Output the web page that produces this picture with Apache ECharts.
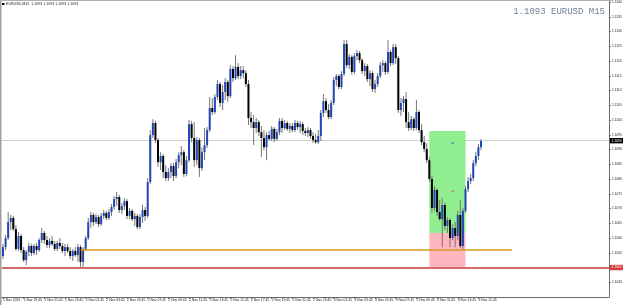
<!DOCTYPE html>
<html><head><meta charset="utf-8">
<script src="https://cdn.jsdelivr.net/npm/echarts@6/dist/echarts.min.js"></script>
<style>html,body{margin:0;padding:0;background:#fff}#c{width:625px;height:305px}</style>
</head><body><div id="c"></div>
<script>
const symbolName = 'EURUSD';
const timeframe = 'M15';
const startTime = '2016-11-01 17:45';
const slotCount = 235;
const tickLabels = ['1 Nov 2016','1 Nov 19:45','1 Nov 21:45','1 Nov 23:45','2 Nov 01:45','2 Nov 03:45','2 Nov 05:45','2 Nov 07:45','2 Nov 09:45','2 Nov 11:45','2 Nov 13:45','2 Nov 15:45','2 Nov 17:45','2 Nov 19:45','2 Nov 21:45','2 Nov 23:45','3 Nov 01:45','3 Nov 03:45','3 Nov 05:45','3 Nov 07:45','3 Nov 09:45','3 Nov 11:45','3 Nov 13:45','3 Nov 15:45'];
const opens = [
1.10539,1.10569,1.10600,1.10654,1.10668,1.10630,1.10563,1.10607,1.10559,1.10525,
1.10553,1.10573,1.10549,1.10573,1.10559,1.10593,1.10617,1.10593,1.10576,1.10590,
1.10580,1.10563,1.10583,1.10573,1.10556,1.10569,1.10556,1.10539,1.10556,1.10542,
1.10569,1.10519,1.10563,1.10600,1.10654,1.10678,1.10654,1.10671,1.10647,1.10675,
1.10685,1.10668,1.10688,1.10705,1.10732,1.10739,1.10695,1.10708,1.10725,1.10675,
1.10692,1.10664,1.10675,1.10637,1.10671,1.10695,1.10675,1.10790,1.10949,1.10990,
1.10932,1.10857,1.10878,1.10824,1.10803,1.10824,1.10844,1.10810,1.10857,1.10881,
1.10891,1.10817,1.10864,1.10986,1.10939,1.10864,1.10932,1.10837,1.10891,1.10915,
1.10966,1.11041,1.11027,1.11078,1.11122,1.11058,1.11095,1.11129,1.11081,1.11173,
1.11142,1.11180,1.11149,1.11169,1.11159,1.11122,1.11007,1.10993,1.10973,1.10993,
1.10959,1.10939,1.10908,1.10949,1.10936,1.10970,1.10936,1.10959,1.10997,1.10973,
1.10990,1.10970,1.10980,1.10966,1.10990,1.10976,1.10986,1.10963,1.10956,1.10966,
1.10946,1.10932,1.10925,1.10946,1.11024,1.11064,1.11034,1.11010,1.11058,1.11136,
1.11149,1.11112,1.11156,1.11258,1.11186,1.11214,1.11163,1.11217,1.11227,1.11203,
1.11166,1.11183,1.11139,1.11159,1.11105,1.11122,1.11149,1.11186,1.11193,1.11163,
1.11231,1.11193,1.11247,1.11210,1.11034,1.11058,1.11071,1.10993,1.10973,1.11003,
1.10973,1.11027,1.10966,1.10925,1.10902,1.10864,1.10800,1.10702,1.10763,1.10688,
1.10664,1.10712,1.10641,1.10661,1.10600,1.10634,1.10607,1.10678,1.10573,1.10692,
1.10766,1.10793,1.10803,1.10854,1.10878,1.10908];
const closes = [
1.10569,1.10600,1.10654,1.10668,1.10630,1.10563,1.10607,1.10559,1.10525,1.10553,
1.10573,1.10549,1.10573,1.10559,1.10593,1.10617,1.10593,1.10576,1.10590,1.10580,
1.10563,1.10583,1.10573,1.10556,1.10569,1.10556,1.10539,1.10556,1.10542,1.10569,
1.10519,1.10563,1.10600,1.10654,1.10678,1.10654,1.10671,1.10647,1.10675,1.10685,
1.10668,1.10688,1.10705,1.10732,1.10739,1.10695,1.10708,1.10725,1.10675,1.10692,
1.10664,1.10675,1.10637,1.10671,1.10695,1.10675,1.10790,1.10949,1.10990,1.10932,
1.10857,1.10878,1.10824,1.10803,1.10824,1.10844,1.10810,1.10857,1.10881,1.10891,
1.10817,1.10864,1.10986,1.10939,1.10864,1.10932,1.10837,1.10891,1.10915,1.10966,
1.11041,1.11027,1.11078,1.11122,1.11058,1.11095,1.11129,1.11081,1.11173,1.11142,
1.11180,1.11149,1.11169,1.11159,1.11122,1.11007,1.10993,1.10973,1.10993,1.10959,
1.10939,1.10908,1.10949,1.10936,1.10970,1.10936,1.10959,1.10997,1.10973,1.10990,
1.10970,1.10980,1.10966,1.10990,1.10976,1.10986,1.10963,1.10956,1.10966,1.10946,
1.10932,1.10925,1.10946,1.11024,1.11064,1.11034,1.11010,1.11058,1.11136,1.11149,
1.11112,1.11156,1.11258,1.11186,1.11214,1.11163,1.11217,1.11227,1.11203,1.11166,
1.11183,1.11139,1.11159,1.11105,1.11122,1.11149,1.11186,1.11193,1.11163,1.11231,
1.11193,1.11247,1.11210,1.11034,1.11058,1.11071,1.10993,1.10973,1.11003,1.10973,
1.11027,1.10966,1.10925,1.10902,1.10864,1.10800,1.10702,1.10763,1.10688,1.10664,
1.10712,1.10641,1.10661,1.10600,1.10634,1.10607,1.10678,1.10573,1.10692,1.10766,
1.10793,1.10803,1.10854,1.10878,1.10908,1.10929];
const highs = [
1.10580,1.10610,1.10688,1.10678,1.10675,1.10644,1.10620,1.10614,1.10569,1.10559,
1.10583,1.10580,1.10580,1.10583,1.10600,1.10634,1.10624,1.10607,1.10600,1.10607,
1.10590,1.10590,1.10600,1.10583,1.10580,1.10580,1.10569,1.10563,1.10569,1.10580,
1.10576,1.10569,1.10607,1.10668,1.10688,1.10685,1.10681,1.10678,1.10685,1.10695,
1.10692,1.10698,1.10715,1.10742,1.10756,1.10746,1.10719,1.10736,1.10732,1.10702,
1.10698,1.10685,1.10681,1.10681,1.10712,1.10705,1.10803,1.10966,1.11003,1.10997,
1.10939,1.10891,1.10885,1.10847,1.10837,1.10854,1.10854,1.10868,1.10891,1.10912,
1.10898,1.10878,1.11000,1.10997,1.10993,1.10942,1.10939,1.10908,1.10973,1.10976,
1.11078,1.11075,1.11088,1.11136,1.11129,1.11119,1.11142,1.11136,1.11186,1.11183,
1.11220,1.11193,1.11183,1.11183,1.11169,1.11136,1.11027,1.11017,1.11007,1.11000,
1.10980,1.10966,1.10959,1.10963,1.10980,1.10976,1.10970,1.11007,1.11007,1.11000,
1.10997,1.10990,1.10990,1.11000,1.10997,1.10997,1.10993,1.10973,1.10976,1.10973,
1.10959,1.10953,1.10966,1.11034,1.11088,1.11075,1.11054,1.11068,1.11146,1.11156,
1.11156,1.11166,1.11271,1.11271,1.11224,1.11220,1.11227,1.11237,1.11234,1.11210,
1.11193,1.11190,1.11169,1.11166,1.11136,1.11159,1.11197,1.11203,1.11200,1.11271,
1.11237,1.11258,1.11258,1.11217,1.11075,1.11081,1.11095,1.11027,1.11014,1.11010,
1.11068,1.11034,1.10986,1.10946,1.10922,1.10875,1.10810,1.10776,1.10769,1.10729,
1.10736,1.10719,1.10671,1.10668,1.10647,1.10654,1.10692,1.10729,1.10702,1.10776,
1.10807,1.10817,1.10864,1.10891,1.10919,1.10936];
const lows = [
1.10529,1.10559,1.10593,1.10627,1.10624,1.10556,1.10556,1.10549,1.10519,1.10508,
1.10539,1.10539,1.10542,1.10542,1.10553,1.10583,1.10580,1.10566,1.10566,1.10573,
1.10556,1.10556,1.10563,1.10549,1.10539,1.10549,1.10529,1.10522,1.10536,1.10519,
1.10502,1.10502,1.10556,1.10593,1.10634,1.10641,1.10647,1.10637,1.10641,1.10664,
1.10661,1.10661,1.10675,1.10695,1.10708,1.10685,1.10681,1.10695,1.10664,1.10664,
1.10658,1.10641,1.10630,1.10630,1.10651,1.10658,1.10668,1.10783,1.10939,1.10922,
1.10841,1.10830,1.10803,1.10793,1.10793,1.10803,1.10793,1.10803,1.10837,1.10847,
1.10807,1.10810,1.10857,1.10925,1.10841,1.10847,1.10807,1.10827,1.10864,1.10905,
1.10959,1.11017,1.11020,1.11068,1.11044,1.11034,1.11068,1.11061,1.11075,1.11129,
1.11136,1.11139,1.11139,1.11142,1.11112,1.10983,1.10973,1.10915,1.10956,1.10946,
1.10875,1.10898,1.10864,1.10929,1.10929,1.10925,1.10929,1.10949,1.10956,1.10966,
1.10963,1.10956,1.10959,1.10959,1.10966,1.10956,1.10949,1.10946,1.10942,1.10936,
1.10922,1.10919,1.10919,1.10929,1.11010,1.11024,1.11003,1.11003,1.11051,1.11115,
1.11105,1.11105,1.11149,1.11176,1.11173,1.11153,1.11156,1.11203,1.11193,1.11156,
1.11149,1.11129,1.11115,1.11095,1.11092,1.11112,1.11142,1.11163,1.11153,1.11156,
1.11183,1.11186,1.11190,1.11024,1.11014,1.11027,1.10973,1.10963,1.10966,1.10963,
1.10966,1.10956,1.10915,1.10891,1.10854,1.10790,1.10685,1.10692,1.10675,1.10658,
1.10569,1.10627,1.10617,1.10569,1.10593,1.10569,1.10593,1.10566,1.10563,1.10685,
1.10756,1.10783,1.10793,1.10844,1.10864,1.10898];
const bidPrice = 1.1093;
const supportLevel = 1.1050;
const trendLevel = 1.10559;
const trendBars = [30, 197];
const boxBars = [165, 179];
const boxLevels = [1.10963, 1.10617, 1.10502];
const boxMarkBar = 174;
const boxMarks = [1.10922, 1.10759];

const categories = [];
(function(){
  const t0 = new Date(startTime.replace(' ', 'T') + ':00Z').getTime();
  for (let i = 0; i < slotCount; i++) {
    const d = new Date(t0 + i * 15 * 60000);
    categories.push(d.toISOString().slice(0,16).replace('T',' '));
  }
})();
const candleData = opens.map((o, i) => [i, o, closes[i], lows[i], highs[i]]);
const bull = '#2046b8', bear = '#000000', wick = '#777777';
const tiny = 3.3;
const chart = echarts.init(document.getElementById('c'), null, {renderer: 'canvas'});
const labelInterval = (i) => i % 8 === 0 && i / 8 < tickLabels.length;
const priceLabel = (txt, bg) => ({show: true, position: 'end', distance: 1, formatter: txt, backgroundColor: bg,
  color: '#fff', fontSize: tiny, padding: [1.2, 1.5], fontFamily: 'Liberation Sans'});
chart.setOption({
  animation: false,
  backgroundColor: '#ffffff',
  grid: {left: 1, right: 13, top: 0, bottom: 8, containLabel: false},
  xAxis: {
    type: 'category', data: categories, boundaryGap: true,
    axisLine: {show: true, lineStyle: {color: '#6a6a6a', width: 1}},
    axisTick: {show: true, alignWithLabel: true, interval: labelInterval, length: 2, lineStyle: {color: '#6a6a6a'}},
    axisLabel: {show: true, interval: labelInterval, align: 'left', margin: 1.5, fontSize: 3.4, color: '#222',
      fontFamily: 'Liberation Sans', formatter: (v, i) => tickLabels[i / 8]},
    splitLine: {show: false}
  },
  yAxis: {
    type: 'value', position: 'right', min: 1.1040, max: 1.11407, interval: 0.0005,
    axisLine: {show: true, lineStyle: {color: '#6a6a6a', width: 1}},
    axisTick: {show: true, length: 2, lineStyle: {color: '#6a6a6a'}},
    axisLabel: {show: true, showMinLabel: false, showMaxLabel: false, margin: 3, fontSize: 3.3, color: '#222',
      fontFamily: 'Liberation Sans', formatter: v => v.toFixed(4)},
    splitLine: {show: false}
  },
  series: [
    {
      type: 'line', name: 'bid', data: [], z: 1, silent: true, symbol: 'none',
      markLine: {
        silent: true, symbol: ['none', 'none'], animation: false, precision: 5, z: 0,
        data: [
          {yAxis: bidPrice, lineStyle: {color: '#cfcfcf', width: 1, type: 'solid'}, label: priceLabel(bidPrice.toFixed(4), '#000')}
        ]
      }
    },
    {
      type: 'line', name: 'levels', data: [], z: 2, silent: true, symbol: 'none',
      markArea: {
        silent: true, z: 1, precision: 5,
        data: [
          [{xAxis: categories[boxBars[0]], yAxis: boxLevels[0], itemStyle: {color: '#90ee90', opacity: 1}},
           {xAxis: categories[boxBars[1]], yAxis: boxLevels[1]}],
          [{xAxis: categories[boxBars[0]], yAxis: boxLevels[1], itemStyle: {color: '#ffb6c1', opacity: 1}},
           {xAxis: categories[boxBars[1]], yAxis: boxLevels[2]}]
        ]
      },
      markLine: {
        silent: true, symbol: ['none', 'none'], animation: false, precision: 5,
        data: [
          {yAxis: supportLevel, lineStyle: {color: '#d46a6a', width: 2, type: 'solid'}, label: priceLabel(supportLevel.toFixed(4), '#d23c3c')},
          [{coord: [categories[trendBars[0]], trendLevel], lineStyle: {color: '#d29a1e', width: 1.5, type: 'solid'}, label: {show: false}},
           {coord: [categories[trendBars[1]], trendLevel]}]
        ]
      }
    },
    {
      type: 'custom', name: 'candles', z: 3,
      encode: {x: 0, y: [1, 2, 3, 4]},
      data: candleData,
      renderItem: function (params, api) {
        const i = api.value(0);
        const o = api.value(1), c = api.value(2), lo = api.value(3), hi = api.value(4);
        const pO = api.coord([i, o]), pC = api.coord([i, c]);
        const pL = api.coord([i, lo]), pH = api.coord([i, hi]);
        const x = pO[0];
        const bw = 2;
        const top = Math.min(pO[1], pC[1]);
        const h = Math.max(Math.abs(pO[1] - pC[1]), 1);
        return {type: 'group', children: [
          {type: 'line', shape: {x1: x, y1: pH[1], x2: x, y2: pL[1]}, style: {stroke: wick, lineWidth: 1}},
          {type: 'rect', shape: {x: x - bw / 2, y: top, width: bw, height: h}, style: {fill: c >= o ? bull : bear}}
        ]};
      }
    },
    {
      type: 'scatter', z: 4, symbol: 'rect', symbolSize: [3, 1.2], silent: true,
      data: [
        {value: [categories[boxMarkBar], boxMarks[0]], itemStyle: {color: '#3a62c8'}},
        {value: [categories[boxMarkBar], boxMarks[1]], itemStyle: {color: '#e05a5a'}}
      ]
    }
  ],
  graphic: [
    {type: 'rect', left: 0, top: 0, shape: {width: 1.5, height: 305}, style: {fill: '#a0a0a0'}, z: 100},
    {type: 'rect', left: 0, top: 0, shape: {width: 612, height: 1}, style: {fill: '#b0b0b0'}, z: 100},
    {type: 'rect', left: 2, top: 3, shape: {width: 2.5, height: 2}, style: {fill: '#000'}, z: 100},
    {type: 'text', left: 6, top: 2, z: 100,
     style: {text: symbolName + ',' + timeframe + '  ' + [bidPrice, bidPrice, bidPrice, bidPrice].map(v => v.toFixed(4)).join(' '),
       font: '3.6px "Liberation Sans"', fill: '#222'}},
    {type: 'text', right: 20, top: 7, z: 100,
     style: {text: bidPrice.toFixed(4) + ' ' + symbolName + ' ' + timeframe, font: '9px "Liberation Mono"', fill: '#6e8298'}}
  ]
});
</script>
</body></html>
